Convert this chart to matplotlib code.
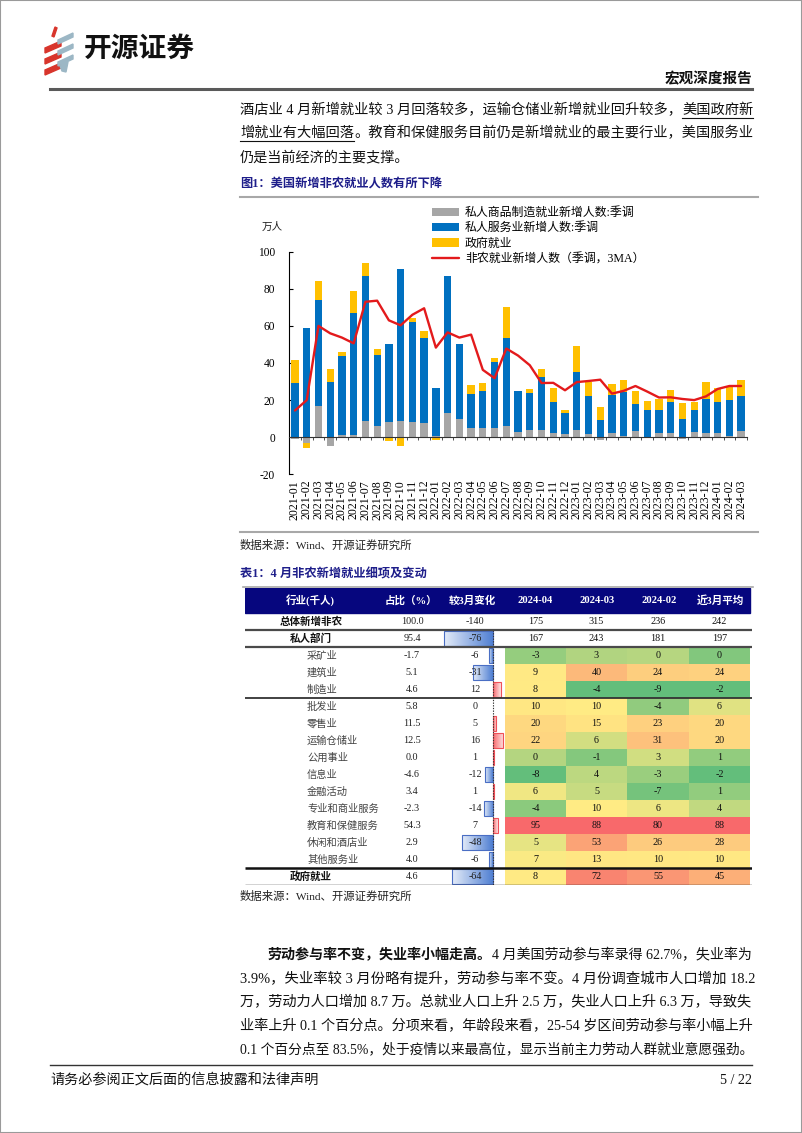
import numpy as np
import matplotlib
matplotlib.use("Agg")
import matplotlib.pyplot as plt
from matplotlib.patches import Rectangle, Polygon
from matplotlib.lines import Line2D
from matplotlib.colors import LinearSegmentedColormap

W, H = 802, 1133

# ---------------- chart data (万人) ----------------
months = [f"{y}-{m:02d}" for y in (2021, 2022, 2023, 2024) for m in range(1, 13)][:39]
goods = [-1, -3, 17, -4.5, 1, 1, 9, 6, 8, 9, 8, 7.5,
         0.7, 13, 10, 5, 5, 4.7, 6.3, 3, 4, 4, 2.5, 1.8,
         4, 1.8, -1.4, 2.5, 0.5, 3.6, 0.3, 2.5, 2.2, -1, 3, 2.5,
         2.3, 0.7, 3.6]
services = [29, 59, 57, 30, 43, 66, 78, 38.5, 42.5, 81.5, 54, 46,
            26, 74, 40, 18.3, 20, 36, 47.4, 22, 20, 28.5, 16.5, 11,
            31, 20.3, 9.5, 20, 24, 14.3, 14.2, 12, 17, 10, 11.5, 18.3,
            16.7, 19.4, 18.8]
government = [12.5, -3, 10, 6.5, 2, 12, 7, 3, -2, -4.5, 2, 4,
              -1.5, -0.7, -0.7, 4.7, 4.2, 2, 16.3, -0.7, 2, 4, 7.7, 1.8,
              14, 7.7, 7, 6.3, 6.6, 7, 5, 6.3, 6.5, 8.5, 4.5, 9,
              7.4, 6.7, 8.5]
nfp_3ma = [14.4, 20, 60, 56, 53.7, 50.6, 73, 73.6, 63, 60.3, 66, 69.5,
           48.3, 56.5, 53.7, 55.3, 36.3, 31.8, 47.8, 44, 38.8, 29.2, 29.3, 25.3,
           29.7, 30.3, 31, 23.5, 25, 27.6, 24.6, 21.4, 21.5, 20.6, 20, 22,
           26, 27.6, 27.6]
series_labels = ["私人商品制造就业新增人数:季调", "私人服务业新增人数:季调",
                 "政府就业", "非农就业新增人数（季调，3MA）"]
yticks = [-20, 0, 20, 40, 60, 80, 100]

# ---------------- table data (千人) ----------------
table_header = ["行业(千人)", "占比（%）", "较3月变化", "2024-04", "2024-03", "2024-02", "近3月平均"]
industries = ["总体新增非农", "私人部门", "采矿业", "建筑业", "制造业", "批发业", "零售业",
              "运输仓储业", "公用事业", "信息业", "金融活动", "专业和商业服务",
              "教育和保健服务", "休闲和酒店业", "其他服务业", "政府就业"]
share = ["100.0", "95.4", "-1.7", "5.1", "4.6", "5.8", "11.5", "12.5", "0.0", "-4.6",
         "3.4", "-2.3", "54.3", "2.9", "4.0", "4.6"]
change = [-140, -76, -6, -31, 12, 0, 5, 16, 1, -12, 1, -14, 7, -48, -6, -64]
m2404 = [175, 167, -3, 9, 8, 10, 20, 22, 0, -8, 6, -4, 95, 5, 7, 8]
m2403 = [315, 243, 3, 40, -4, 10, 15, 6, -1, 4, 5, 10, 88, 53, 13, 72]
m2402 = [236, 181, 0, 24, -9, -4, 23, 31, 3, -3, -7, 6, 80, 26, 10, 55]
avg3 = [242, 197, 0, 24, -2, 6, 20, 20, 1, -2, 1, 4, 88, 28, 10, 45]
bold_rows = [0, 1, 15]

plt.rcParams["font.family"] = ["Liberation Serif", "Noto Sans CJK SC"]
plt.rcParams["axes.unicode_minus"] = False

fig = plt.figure(figsize=(W / 100, H / 100), dpi=100)


def fx(x):
    return x / W


def fy(y):
    return 1 - y / H


def hline(x0, x1, y, color, lw):
    fig.add_artist(Line2D([fx(x0), fx(x1)], [fy(y), fy(y)], color=color, lw=lw,
                          transform=fig.transFigure))


# page border
fig.add_artist(Rectangle((0, 0), 1, 1, transform=fig.transFigure, fill=False,
                         ec="#9a9a9a", lw=1.5))

# ---------------- header / logo ----------------
for k in range(3):
    y0 = 42 + 11 * k
    fig.add_artist(Polygon([(fx(45), fy(y0 + 6)), (fx(61), fy(y0 - 1)),
                            (fx(61), fy(y0 + 4)), (fx(45), fy(y0 + 11))],
                           closed=True, color="#D8352C", transform=fig.transFigure))
    y1 = 34 + 11 * k
    fig.add_artist(Polygon([(fx(58), fy(y1 + 6)), (fx(73), fy(y1 - 1)),
                            (fx(73), fy(y1 + 3)), (fx(58), fy(y1 + 10))],
                           closed=True, color="#9CB7C5", transform=fig.transFigure))
fig.add_artist(Polygon([(fx(52), fy(36)), (fx(55), fy(27)), (fx(57), fy(28)), (fx(54), fy(37))],
                       closed=True, color="#D8352C", transform=fig.transFigure))
fig.add_artist(Polygon([(fx(60), fy(66)), (fx(68), fy(62)), (fx(66), fy(72)), (fx(62), fy(71))],
                       closed=True, color="#9CB7C5", transform=fig.transFigure))
fig.text(fx(84), fy(49), "开源证券", fontsize=20, weight="bold",
         family=["Noto Sans CJK SC"], va="center", ha="left", color="#111111")
fig.text(fx(752), fy(79), "宏观深度报告", fontsize=10.5, weight="bold", va="center",
         ha="right", color="#111111")
hline(50, 752, 89, "#5a5a5a", 2.2)

BODY = 10.2
# top paragraph
t1a = fig.text(fx(240), fy(110), "酒店业 4 月新增就业较 3 月回落较多，运输仓储业新增就业回升较多，",
               fontsize=BODY, va="center", ha="left", color="#111111")
t1b = fig.text(0, 0, "美国政府新", fontsize=BODY, color="#111111")
t2a = fig.text(fx(240), fy(133), "增就业有大幅回落", fontsize=BODY, va="center", ha="left",
               color="#111111")
t2b = fig.text(0, 0, "。教育和保健服务目前仍是新增就业的最主要行业，美国服务业",
               fontsize=BODY, color="#111111")
fig.text(fx(240), fy(157), "仍是当前经济的主要支撑。", fontsize=BODY, va="center", ha="left",
         color="#111111")

NAVY = "#1E1E8A"
fig.text(fx(240), fy(184), "图1：美国新增非农就业人数有所下降", fontsize=8.8, weight="bold",
         color=NAVY, va="center", ha="left")
hline(240, 758, 197, "#a8a8a8", 1.5)

# ---------------- chart ----------------
ax = fig.add_axes([fx(289.1), fy(474.3), (747 - 289.1) / W, (474.3 - 251.7) / H])
x = np.arange(len(months))
pos_base = np.zeros(len(x))
neg_base = np.zeros(len(x))
bar_colors = ["#A6A6A6", "#0070C0", "#FFC000"]
handles = []
for vals, col, lab in zip([goods, services, government], bar_colors, series_labels[:3]):
    v = np.asarray(vals, float)
    bottoms = np.where(v >= 0, pos_base, neg_base)
    handles.append(ax.bar(x, v, bottom=bottoms, width=0.62, color=col, label=lab, zorder=2,
                          linewidth=0))
    pos_base = pos_base + np.where(v >= 0, v, 0)
    neg_base = neg_base + np.where(v < 0, v, 0)
handles += ax.plot(x, nfp_3ma, color="#E31A1C", lw=1.7, zorder=3, label=series_labels[3],
                   solid_joinstyle="round", solid_capstyle="round")

ax.set_xlim(-0.5, len(months) - 0.5)
ax.set_ylim(-20, 100)
ax.set_yticks(yticks)
ax.tick_params(axis="y", direction="in", length=3, pad=10, labelsize=8.3, width=0.8)
ax.spines["top"].set_visible(False)
ax.spines["right"].set_visible(False)
ax.spines["left"].set_linewidth(0.8)
ax.spines["bottom"].set_position(("data", 0))
ax.spines["bottom"].set_color("#333333")
ax.spines["bottom"].set_linewidth(0.8)
ax.set_xticks(np.arange(-0.5, len(months), 1))
ax.tick_params(axis="x", direction="out", length=2.5, labelbottom=False, width=0.6,
               color="#333333")
sec = ax.secondary_xaxis("bottom")
sec.set_xticks(x)
sec.set_xticklabels(months, rotation=90, fontsize=8.6)
sec.tick_params(length=0, pad=4)
sec.spines["bottom"].set_visible(False)

ax.legend(handles=handles, labels=series_labels, loc="upper left",
          bbox_to_anchor=(fx(432), fy(207)), bbox_transform=fig.transFigure,
          frameon=False, fontsize=8.6, handlelength=2.3, handleheight=0.7, labelspacing=0.28,
          handletextpad=0.45, borderpad=0, borderaxespad=0)
fig.text(fx(262), fy(227), "万人", fontsize=7.6, va="center", ha="left", color="#222222")

hline(240, 758, 532, "#a8a8a8", 1.5)
fig.text(fx(240), fy(545), "数据来源：Wind、开源证券研究所", fontsize=8.2, va="center", ha="left",
         color="#222222")

# ---------------- table ----------------
fig.text(fx(240), fy(574), "表1：4 月非农新增就业细项及变动", fontsize=8.8, weight="bold",
         color=NAVY, va="center", ha="left")
hline(243, 753, 587, "#a8a8a8", 1.2)

HDR = 25 / 17
tax = fig.add_axes([fx(245), fy(885), (752 - 245) / W, (885 - 588) / H])
tax.set_xlim(0, 507)
tax.set_ylim(16, -HDR)
tax.set_autoscale_on(False)
tax.axis("off")

name_center, name_left = 66, 62
share_c, change_c, zero_x, bar_scale = 167, 230, 248, 0.645
heat_edges = [260, 321, 382, 444, 505]
header_x = [65, 166, 227, 290, 352, 414, 475]

tax.add_patch(Rectangle((0, -HDR), 505, HDR, color="#06067E", zorder=1))
for hx, txt in zip(header_x, table_header):
    tax.text(hx, -HDR / 2, txt, color="white", weight="bold", fontsize=7.6,
             ha="center", va="center", zorder=5)


def scale3(vals):
    v = np.asarray(vals, float)
    lo, mid, hi = v.min(), np.percentile(v, 50), v.max()
    g = np.array([99, 190, 123]) / 255
    yv = np.array([255, 235, 132]) / 255
    r = np.array([248, 105, 107]) / 255
    out = []
    for val in v:
        if val <= mid:
            t = 0 if mid == lo else (val - lo) / (mid - lo)
            out.append(g + (yv - g) * t)
        else:
            t = (val - mid) / (hi - mid)
            out.append(yv + (r - yv) * t)
    return out


heat_cols = [m2404, m2403, m2402, avg3]
for c, col in enumerate(heat_cols):
    colors = scale3(col[2:])
    cx = (heat_edges[c] + heat_edges[c + 1]) / 2
    for i, val in enumerate(col):
        if i >= 2:
            tax.add_patch(Rectangle((heat_edges[c], i), heat_edges[c + 1] - heat_edges[c], 1,
                                    color=colors[i - 2], lw=0, zorder=1))
        tax.text(cx, i + 0.5, str(val), ha="center", va="center", fontsize=7.3,
                 color="#111111", zorder=5)

blue_cm = LinearSegmentedColormap.from_list("b", ["#E3EBF8", "#4E7ED2"])
red_cm = LinearSegmentedColormap.from_list("r", ["#F86A6E", "#FDE3E3"])
grad = np.linspace(0, 1, 64).reshape(1, -1)
for i, v in enumerate(change):
    if i == 0 or v == 0:
        continue
    x0, x1 = sorted([zero_x, zero_x + v * bar_scale])
    cm = blue_cm if v < 0 else red_cm
    ec = "#4A6EC4" if v < 0 else "#F05058"
    tax.imshow(grad, cmap=cm, extent=[x0, x1, i + 0.93, i + 0.07], aspect="auto",
               zorder=2, interpolation="bilinear")
    tax.add_patch(Rectangle((x0, i + 0.07), x1 - x0, 0.86, fill=False, ec=ec, lw=0.8, zorder=3))
tax.plot([zero_x, zero_x], [1, 16], ls=(0, (1.2, 1.2)), color="#333333", lw=0.8, zorder=4)

for i, name in enumerate(industries):
    if i in bold_rows:
        tax.text(name_center, i + 0.5, name, ha="center", va="center", fontsize=7.6,
                 weight="bold", color="#111111", zorder=5)
    else:
        tax.text(name_left, i + 0.5, name, ha="left", va="center", fontsize=7.4,
                 color="#444444", zorder=5)
    tax.text(share_c, i + 0.5, share[i], ha="center", va="center", fontsize=7.3,
             color="#222222", zorder=5)
    tax.text(change_c, i + 0.5, str(change[i]), ha="center", va="center", fontsize=7.3,
             color="#222222", zorder=5)

for yy, lw, colr in [(1, 1.6, "#4a4a4a"), (2, 1.6, "#4a4a4a"), (5, 1.3, "#333333"),
                     (15, 1.8, "#111111"), (16, 1.0, "#222222")]:
    tax.plot([0, 507], [yy, yy], color=colr, lw=lw, zorder=6, solid_capstyle="butt")

fig.text(fx(240), fy(896), "数据来源：Wind、开源证券研究所", fontsize=8.2, va="center", ha="left",
         color="#222222")

# ---------------- bottom paragraph ----------------
b1 = fig.text(fx(268), fy(955), "劳动参与率不变，失业率小幅走高。", fontsize=BODY, weight="bold",
              va="center", ha="left", color="#111111")
b1b = fig.text(0, 0, "4 月美国劳动参与率录得 62.7%，失业率为", fontsize=BODY, color="#111111")
lines = ["3.9%，失业率较 3 月份略有提升，劳动参与率不变。4 月份调查城市人口增加 18.2",
         "万，劳动力人口增加 8.7 万。总就业人口上升 2.5 万，失业人口上升 6.3 万，导致失",
         "业率上升 0.1 个百分点。分项来看，年龄段来看，25-54 岁区间劳动参与率小幅上升",
         "0.1 个百分点至 83.5%，处于疫情以来最高位，显示当前主力劳动人群就业意愿强劲。"]
line_texts = []
for k, ln in enumerate(lines):
    line_texts.append(fig.text(fx(240), fy(979 + 23.5 * k), ln, fontsize=BODY, va="center",
                               ha="left", color="#111111"))

# footer
hline(50, 752, 1065, "#333333", 1.0)
fig.text(fx(50), fy(1080), "请务必参阅正文后面的信息披露和法律声明", fontsize=10.2, va="center",
         ha="left", color="#111111")
fig.text(fx(752), fy(1080), "5 / 22", fontsize=10.2, va="center", ha="right", color="#111111")

# ---- fit justified lines to the right margin (x = 752 px) ----
fig.canvas.draw()
rend = fig.canvas.get_renderer()
RIGHT = 752


def follow(prev, nxt):
    bb = prev.get_window_extent(rend)
    nxt.set_position((bb.x1 / W, prev.get_position()[1]))
    nxt.set_va("center")
    nxt.set_ha("left")


def fit(pieces):
    follow_pairs = list(zip(pieces[:-1], pieces[1:]))
    for p, n in follow_pairs:
        follow(p, n)
    fig.canvas.draw()
    x0 = pieces[0].get_window_extent(rend).x0
    x1 = pieces[-1].get_window_extent(rend).x1
    f = (RIGHT - x0) / (x1 - x0)
    f = min(max(f, 0.9), 1.08)
    for p in pieces:
        p.set_fontsize(p.get_fontsize() * f)
    fig.canvas.draw()
    for p, n in follow_pairs:
        follow(p, n)


fit([t1a, t1b])
fit([t2a, t2b])
fit([b1, b1b])
for t in line_texts:
    fit([t])
fig.canvas.draw()
for t in (t1b, t2a):
    bb = t.get_window_extent(rend)
    yb = (bb.y0 - 1.5) / H
    fig.add_artist(Line2D([bb.x0 / W, bb.x1 / W], [yb, yb], color="#111111", lw=0.8,
                          transform=fig.transFigure))

fig.savefig("out.png", dpi=100)
